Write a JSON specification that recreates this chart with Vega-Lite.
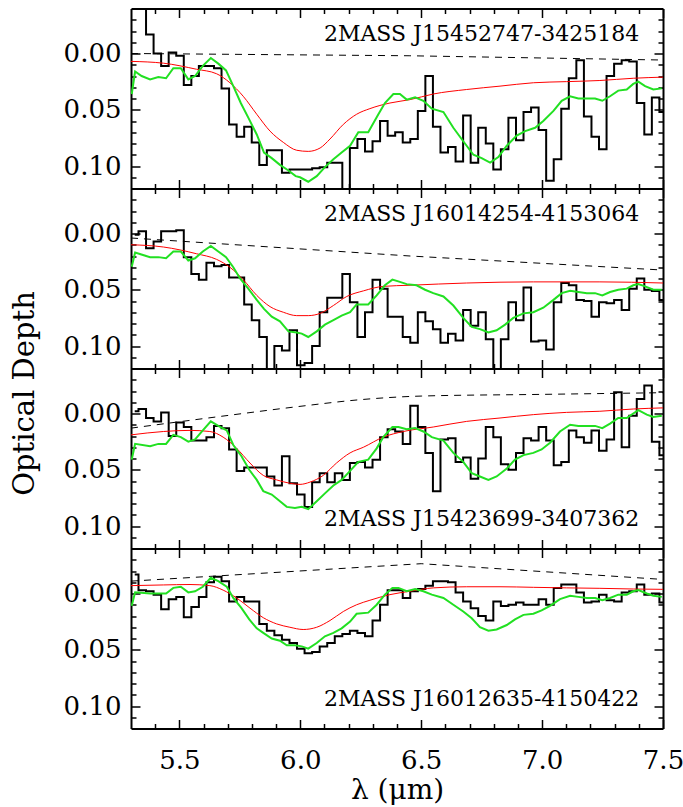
{
"$schema":"https://vega.github.io/schema/vega-lite/v6.json",
"padding":{"left":10,"top":7.5,"right":0,"bottom":0},
"autosize":{"type":"pad"},
"background":"white",
"config":{"view":{"stroke":null},"axis":{"grid":false,"domainColor":"black","domainWidth":2,"tickColor":"black","tickWidth":1.5,"labelFont":"DejaVu Serif","labelColor":"black","titleFont":"DejaVu Serif","titleColor":"black","titleFontWeight":"normal","labelOverlap":false,"labelFlush":false,"labelBound":false}},
"datasets":{
"h":[
{"x":5.3154,"y1":-0.05,"y2":0.001,"y3":-0.002,"y4":-0.017},
{"x":5.3466,"y1":-0.05,"y2":-0.002,"y3":-0.004,"y4":-0.003},
{"x":5.3778,"y1":-0.017,"y2":0.013,"y3":0.004,"y4":-0.002},
{"x":5.4090,"y1":0.000,"y2":0.007,"y3":0.007,"y4":0.001},
{"x":5.4402,"y1":0.011,"y2":-0.002,"y3":-0.001,"y4":0.014},
{"x":5.4715,"y1":-0.001,"y2":-0.002,"y3":0.020,"y4":0.005},
{"x":5.5027,"y1":0.002,"y2":-0.003,"y3":0.008,"y4":0.003},
{"x":5.5339,"y1":0.028,"y2":0.021,"y3":0.012,"y4":0.021},
{"x":5.5651,"y1":0.020,"y2":0.036,"y3":0.024,"y4":0.012},
{"x":5.5963,"y1":0.011,"y2":0.041,"y3":0.024,"y4":0.003},
{"x":5.6276,"y1":0.011,"y2":0.026,"y3":0.021,"y4":-0.010},
{"x":5.6588,"y1":0.013,"y2":0.029,"y3":0.011,"y4":-0.015},
{"x":5.6900,"y1":0.031,"y2":0.028,"y3":0.013,"y4":-0.011},
{"x":5.7212,"y1":0.063,"y2":0.039,"y3":0.032,"y4":0.007},
{"x":5.7524,"y1":0.074,"y2":0.039,"y3":0.051,"y4":0.003},
{"x":5.7837,"y1":0.065,"y2":0.063,"y3":0.048,"y4":0.007},
{"x":5.8149,"y1":0.079,"y2":0.077,"y3":0.048,"y4":0.007},
{"x":5.8461,"y1":0.099,"y2":0.092,"y3":0.048,"y4":0.027},
{"x":5.8773,"y1":0.086,"y2":0.125,"y3":0.056,"y4":0.033},
{"x":5.9085,"y1":0.086,"y2":0.100,"y3":0.064,"y4":0.037},
{"x":5.9398,"y1":0.106,"y2":0.104,"y3":0.038,"y4":0.041},
{"x":5.9710,"y1":0.103,"y2":0.086,"y3":0.062,"y4":0.044},
{"x":6.0022,"y1":0.103,"y2":0.117,"y3":0.072,"y4":0.049},
{"x":6.0334,"y1":0.103,"y2":0.115,"y3":0.083,"y4":0.053},
{"x":6.0646,"y1":0.102,"y2":0.100,"y3":0.061,"y4":0.052},
{"x":6.0959,"y1":0.101,"y2":0.070,"y3":0.053,"y4":0.047},
{"x":6.1271,"y1":0.097,"y2":0.057,"y3":0.061,"y4":0.044},
{"x":6.1583,"y1":0.097,"y2":0.057,"y3":0.053,"y4":0.038},
{"x":6.1895,"y1":0.125,"y2":0.036,"y3":0.059,"y4":0.036},
{"x":6.2207,"y1":0.084,"y2":0.061,"y3":0.044,"y4":0.033},
{"x":6.2520,"y1":0.076,"y2":0.092,"y3":0.043,"y4":0.035},
{"x":6.2832,"y1":0.087,"y2":0.070,"y3":0.048,"y4":0.038},
{"x":6.3144,"y1":0.078,"y2":0.041,"y3":0.041,"y4":0.024},
{"x":6.3456,"y1":0.060,"y2":0.049,"y3":0.021,"y4":0.010},
{"x":6.3768,"y1":0.073,"y2":0.074,"y3":0.014,"y4":-0.003},
{"x":6.4081,"y1":0.070,"y2":0.074,"y3":0.016,"y4":-0.003},
{"x":6.4393,"y1":0.079,"y2":0.092,"y3":0.027,"y4":0.004},
{"x":6.4705,"y1":0.076,"y2":0.097,"y3":-0.007,"y4":-0.002},
{"x":6.5017,"y1":0.051,"y2":0.070,"y3":0.012,"y4":-0.004},
{"x":6.5329,"y1":0.020,"y2":0.078,"y3":0.035,"y4":-0.007},
{"x":6.5642,"y1":0.065,"y2":0.085,"y3":0.069,"y4":-0.011},
{"x":6.5954,"y1":0.088,"y2":0.097,"y3":0.023,"y4":-0.011},
{"x":6.6266,"y1":0.083,"y2":0.089,"y3":0.022,"y4":-0.010},
{"x":6.6578,"y1":0.096,"y2":0.095,"y3":0.043,"y4":-0.001},
{"x":6.6890,"y1":0.055,"y2":0.068,"y3":0.039,"y4":0.007},
{"x":6.7203,"y1":0.097,"y2":0.082,"y3":0.058,"y4":0.013},
{"x":6.7515,"y1":0.066,"y2":0.070,"y3":0.040,"y4":0.020},
{"x":6.7827,"y1":0.080,"y2":0.094,"y3":0.012,"y4":0.024},
{"x":6.8139,"y1":0.103,"y2":0.125,"y3":0.021,"y4":0.007},
{"x":6.8451,"y1":0.085,"y2":0.094,"y3":0.045,"y4":0.011},
{"x":6.8764,"y1":0.057,"y2":0.061,"y3":0.050,"y4":0.010},
{"x":6.9076,"y1":0.077,"y2":0.077,"y3":0.035,"y4":0.008},
{"x":6.9388,"y1":0.052,"y2":0.048,"y3":0.022,"y4":0.010},
{"x":6.9700,"y1":0.048,"y2":0.096,"y3":0.024,"y4":0.010},
{"x":7.0012,"y1":0.068,"y2":0.095,"y3":0.012,"y4":0.005},
{"x":7.0325,"y1":0.113,"y2":0.103,"y3":0.024,"y4":0.010},
{"x":7.0637,"y1":0.094,"y2":0.061,"y3":0.046,"y4":-0.005},
{"x":7.0949,"y1":0.049,"y2":0.044,"y3":0.043,"y4":-0.008},
{"x":7.1261,"y1":0.022,"y2":0.046,"y3":0.015,"y4":-0.008},
{"x":7.1573,"y1":0.006,"y2":0.059,"y3":0.021,"y4":-0.001},
{"x":7.1886,"y1":0.056,"y2":0.060,"y3":0.026,"y4":0.008},
{"x":7.2198,"y1":0.074,"y2":0.074,"y3":0.015,"y4":0.007},
{"x":7.2510,"y1":0.085,"y2":0.061,"y3":0.033,"y4":0.001},
{"x":7.2822,"y1":0.020,"y2":0.062,"y3":0.023,"y4":0.006},
{"x":7.3134,"y1":0.009,"y2":0.059,"y3":-0.019,"y4":0.007},
{"x":7.3447,"y1":0.006,"y2":0.068,"y3":0.030,"y4":-0.001},
{"x":7.3759,"y1":0.007,"y2":0.049,"y3":0.002,"y4":-0.002},
{"x":7.4071,"y1":0.044,"y2":0.040,"y3":-0.013,"y4":-0.008},
{"x":7.4383,"y1":0.072,"y2":0.050,"y3":-0.025,"y4":0.001},
{"x":7.4695,"y1":0.039,"y2":0.051,"y3":0.025,"y4":0.000},
{"x":7.5008,"y1":0.052,"y2":0.059,"y3":0.037,"y4":0.008}
],
"g":[
{"p":1,"x":5.303,"y":0.036},{"p":1,"x":5.317,"y":0.016},{"p":1,"x":5.344,"y":0.020},{"p":1,"x":5.379,"y":0.023},{"p":1,"x":5.413,"y":0.021},{"p":1,"x":5.445,"y":0.022},{"p":1,"x":5.475,"y":0.013},{"p":1,"x":5.506,"y":0.013},{"p":1,"x":5.537,"y":0.023},{"p":1,"x":5.565,"y":0.020},{"p":1,"x":5.597,"y":0.011},{"p":1,"x":5.630,"y":0.004},{"p":1,"x":5.661,"y":0.009},{"p":1,"x":5.693,"y":0.015},{"p":1,"x":5.723,"y":0.029},{"p":1,"x":5.754,"y":0.044},{"p":1,"x":5.785,"y":0.057},{"p":1,"x":5.820,"y":0.072},{"p":1,"x":5.850,"y":0.088},{"p":1,"x":5.882,"y":0.093},{"p":1,"x":5.916,"y":0.099},{"p":1,"x":5.951,"y":0.104},{"p":1,"x":5.981,"y":0.109},{"p":1,"x":5.999,"y":0.110},{"p":1,"x":6.033,"y":0.114},{"p":1,"x":6.068,"y":0.109},{"p":1,"x":6.102,"y":0.101},{"p":1,"x":6.137,"y":0.094},{"p":1,"x":6.171,"y":0.088},{"p":1,"x":6.206,"y":0.082},{"p":1,"x":6.240,"y":0.070},{"p":1,"x":6.281,"y":0.070},{"p":1,"x":6.323,"y":0.054},{"p":1,"x":6.350,"y":0.044},{"p":1,"x":6.385,"y":0.036},{"p":1,"x":6.412,"y":0.036},{"p":1,"x":6.440,"y":0.041},{"p":1,"x":6.475,"y":0.039},{"p":1,"x":6.509,"y":0.042},{"p":1,"x":6.544,"y":0.049},{"p":1,"x":6.592,"y":0.052},{"p":1,"x":6.633,"y":0.066},{"p":1,"x":6.674,"y":0.078},{"p":1,"x":6.716,"y":0.090},{"p":1,"x":6.750,"y":0.093},{"p":1,"x":6.785,"y":0.097},{"p":1,"x":6.819,"y":0.092},{"p":1,"x":6.854,"y":0.082},{"p":1,"x":6.895,"y":0.073},{"p":1,"x":6.930,"y":0.069},{"p":1,"x":6.971,"y":0.066},{"p":1,"x":7.005,"y":0.060},{"p":1,"x":7.047,"y":0.051},{"p":1,"x":7.081,"y":0.042},{"p":1,"x":7.116,"y":0.038},{"p":1,"x":7.150,"y":0.040},{"p":1,"x":7.185,"y":0.040},{"p":1,"x":7.219,"y":0.040},{"p":1,"x":7.249,"y":0.042},{"p":1,"x":7.281,"y":0.038},{"p":1,"x":7.315,"y":0.033},{"p":1,"x":7.350,"y":0.032},{"p":1,"x":7.377,"y":0.027},{"p":1,"x":7.398,"y":0.025},{"p":1,"x":7.426,"y":0.029},{"p":1,"x":7.460,"y":0.032},{"p":1,"x":7.495,"y":0.031},
{"p":2,"x":5.303,"y":0.0295},{"p":2,"x":5.317,"y":0.017},{"p":2,"x":5.379,"y":0.021},{"p":2,"x":5.413,"y":0.021},{"p":2,"x":5.445,"y":0.022},{"p":2,"x":5.475,"y":0.016},{"p":2,"x":5.506,"y":0.016},{"p":2,"x":5.537,"y":0.024},{"p":2,"x":5.565,"y":0.022},{"p":2,"x":5.597,"y":0.016},{"p":2,"x":5.630,"y":0.011},{"p":2,"x":5.661,"y":0.016},{"p":2,"x":5.693,"y":0.021},{"p":2,"x":5.723,"y":0.030},{"p":2,"x":5.751,"y":0.040},{"p":2,"x":5.785,"y":0.049},{"p":2,"x":5.820,"y":0.059},{"p":2,"x":5.850,"y":0.067},{"p":2,"x":5.882,"y":0.074},{"p":2,"x":5.916,"y":0.078},{"p":2,"x":5.951,"y":0.087},{"p":2,"x":5.985,"y":0.088},{"p":2,"x":6.006,"y":0.089},{"p":2,"x":6.033,"y":0.092},{"p":2,"x":6.068,"y":0.087},{"p":2,"x":6.102,"y":0.081},{"p":2,"x":6.137,"y":0.077},{"p":2,"x":6.171,"y":0.073},{"p":2,"x":6.206,"y":0.070},{"p":2,"x":6.233,"y":0.063},{"p":2,"x":6.281,"y":0.063},{"p":2,"x":6.316,"y":0.055},{"p":2,"x":6.350,"y":0.046},{"p":2,"x":6.381,"y":0.041},{"p":2,"x":6.412,"y":0.043},{"p":2,"x":6.440,"y":0.045},{"p":2,"x":6.481,"y":0.046},{"p":2,"x":6.516,"y":0.050},{"p":2,"x":6.550,"y":0.053},{"p":2,"x":6.592,"y":0.056},{"p":2,"x":6.633,"y":0.064},{"p":2,"x":6.674,"y":0.075},{"p":2,"x":6.709,"y":0.083},{"p":2,"x":6.743,"y":0.085},{"p":2,"x":6.778,"y":0.088},{"p":2,"x":6.812,"y":0.086},{"p":2,"x":6.847,"y":0.081},{"p":2,"x":6.881,"y":0.075},{"p":2,"x":6.923,"y":0.071},{"p":2,"x":6.964,"y":0.070},{"p":2,"x":7.005,"y":0.066},{"p":2,"x":7.047,"y":0.059},{"p":2,"x":7.081,"y":0.053},{"p":2,"x":7.116,"y":0.051},{"p":2,"x":7.150,"y":0.052},{"p":2,"x":7.185,"y":0.053},{"p":2,"x":7.219,"y":0.053},{"p":2,"x":7.249,"y":0.055},{"p":2,"x":7.281,"y":0.052},{"p":2,"x":7.315,"y":0.050},{"p":2,"x":7.350,"y":0.049},{"p":2,"x":7.377,"y":0.046},{"p":2,"x":7.398,"y":0.045},{"p":2,"x":7.426,"y":0.047},{"p":2,"x":7.460,"y":0.050},{"p":2,"x":7.495,"y":0.050},
{"p":3,"x":5.303,"y":0.041},{"p":3,"x":5.317,"y":0.027},{"p":3,"x":5.379,"y":0.029},{"p":3,"x":5.413,"y":0.027},{"p":3,"x":5.445,"y":0.027},{"p":3,"x":5.475,"y":0.019},{"p":3,"x":5.506,"y":0.021},{"p":3,"x":5.537,"y":0.025},{"p":3,"x":5.565,"y":0.023},{"p":3,"x":5.597,"y":0.015},{"p":3,"x":5.630,"y":0.007},{"p":3,"x":5.661,"y":0.011},{"p":3,"x":5.696,"y":0.015},{"p":3,"x":5.723,"y":0.028},{"p":3,"x":5.757,"y":0.038},{"p":3,"x":5.789,"y":0.050},{"p":3,"x":5.820,"y":0.059},{"p":3,"x":5.847,"y":0.069},{"p":3,"x":5.882,"y":0.072},{"p":3,"x":5.916,"y":0.078},{"p":3,"x":5.944,"y":0.083},{"p":3,"x":5.978,"y":0.084},{"p":3,"x":6.006,"y":0.083},{"p":3,"x":6.033,"y":0.085},{"p":3,"x":6.068,"y":0.078},{"p":3,"x":6.102,"y":0.071},{"p":3,"x":6.137,"y":0.064},{"p":3,"x":6.171,"y":0.059},{"p":3,"x":6.206,"y":0.051},{"p":3,"x":6.240,"y":0.043},{"p":3,"x":6.281,"y":0.041},{"p":3,"x":6.316,"y":0.031},{"p":3,"x":6.343,"y":0.021},{"p":3,"x":6.381,"y":0.012},{"p":3,"x":6.406,"y":0.012},{"p":3,"x":6.440,"y":0.014},{"p":3,"x":6.475,"y":0.013},{"p":3,"x":6.509,"y":0.016},{"p":3,"x":6.544,"y":0.021},{"p":3,"x":6.592,"y":0.024},{"p":3,"x":6.633,"y":0.035},{"p":3,"x":6.674,"y":0.043},{"p":3,"x":6.709,"y":0.053},{"p":3,"x":6.743,"y":0.056},{"p":3,"x":6.778,"y":0.059},{"p":3,"x":6.812,"y":0.056},{"p":3,"x":6.854,"y":0.049},{"p":3,"x":6.888,"y":0.041},{"p":3,"x":6.923,"y":0.037},{"p":3,"x":6.964,"y":0.035},{"p":3,"x":6.998,"y":0.032},{"p":3,"x":7.033,"y":0.026},{"p":3,"x":7.074,"y":0.016},{"p":3,"x":7.116,"y":0.010},{"p":3,"x":7.150,"y":0.011},{"p":3,"x":7.185,"y":0.011},{"p":3,"x":7.219,"y":0.011},{"p":3,"x":7.249,"y":0.013},{"p":3,"x":7.281,"y":0.009},{"p":3,"x":7.315,"y":0.004},{"p":3,"x":7.350,"y":0.004},{"p":3,"x":7.377,"y":0.000},{"p":3,"x":7.398,"y":-0.003},{"p":3,"x":7.433,"y":0.001},{"p":3,"x":7.460,"y":0.003},{"p":3,"x":7.495,"y":0.002},
{"p":4,"x":5.303,"y":0.011},{"p":4,"x":5.317,"y":-0.001},{"p":4,"x":5.379,"y":0.000},{"p":4,"x":5.413,"y":0.000},{"p":4,"x":5.445,"y":0.000},{"p":4,"x":5.475,"y":-0.005},{"p":4,"x":5.506,"y":-0.006},{"p":4,"x":5.537,"y":-0.001},{"p":4,"x":5.565,"y":-0.002},{"p":4,"x":5.597,"y":-0.006},{"p":4,"x":5.630,"y":-0.014},{"p":4,"x":5.661,"y":-0.011},{"p":4,"x":5.696,"y":-0.006},{"p":4,"x":5.723,"y":0.004},{"p":4,"x":5.757,"y":0.013},{"p":4,"x":5.789,"y":0.023},{"p":4,"x":5.820,"y":0.031},{"p":4,"x":5.847,"y":0.035},{"p":4,"x":5.882,"y":0.040},{"p":4,"x":5.916,"y":0.042},{"p":4,"x":5.944,"y":0.046},{"p":4,"x":5.978,"y":0.046},{"p":4,"x":6.006,"y":0.047},{"p":4,"x":6.033,"y":0.049},{"p":4,"x":6.068,"y":0.044},{"p":4,"x":6.102,"y":0.038},{"p":4,"x":6.137,"y":0.035},{"p":4,"x":6.171,"y":0.031},{"p":4,"x":6.206,"y":0.025},{"p":4,"x":6.233,"y":0.018},{"p":4,"x":6.281,"y":0.017},{"p":4,"x":6.316,"y":0.010},{"p":4,"x":6.350,"y":0.001},{"p":4,"x":6.381,"y":-0.005},{"p":4,"x":6.406,"y":-0.005},{"p":4,"x":6.440,"y":-0.002},{"p":4,"x":6.475,"y":-0.004},{"p":4,"x":6.509,"y":-0.002},{"p":4,"x":6.544,"y":0.001},{"p":4,"x":6.592,"y":0.004},{"p":4,"x":6.633,"y":0.010},{"p":4,"x":6.674,"y":0.016},{"p":4,"x":6.709,"y":0.022},{"p":4,"x":6.743,"y":0.030},{"p":4,"x":6.778,"y":0.033},{"p":4,"x":6.812,"y":0.032},{"p":4,"x":6.854,"y":0.028},{"p":4,"x":6.888,"y":0.023},{"p":4,"x":6.923,"y":0.019},{"p":4,"x":6.964,"y":0.018},{"p":4,"x":6.998,"y":0.015},{"p":4,"x":7.033,"y":0.011},{"p":4,"x":7.074,"y":0.005},{"p":4,"x":7.116,"y":0.002},{"p":4,"x":7.150,"y":0.003},{"p":4,"x":7.185,"y":0.004},{"p":4,"x":7.219,"y":0.004},{"p":4,"x":7.249,"y":0.006},{"p":4,"x":7.281,"y":0.004},{"p":4,"x":7.315,"y":0.001},{"p":4,"x":7.350,"y":0.001},{"p":4,"x":7.377,"y":-0.002},{"p":4,"x":7.398,"y":-0.003},{"p":4,"x":7.433,"y":0.000},{"p":4,"x":7.460,"y":0.002},{"p":4,"x":7.495,"y":0.003}
],
"r":[
{"p":1,"x":5.3,"y":0.007},{"p":1,"x":5.434,"y":0.0086},{"p":1,"x":5.571,"y":0.014},{"p":1,"x":5.654,"y":0.018},{"p":1,"x":5.709,"y":0.026},{"p":1,"x":5.764,"y":0.038},{"p":1,"x":5.820,"y":0.054},{"p":1,"x":5.875,"y":0.069},{"p":1,"x":5.930,"y":0.079},{"p":1,"x":5.985,"y":0.086},{"p":1,"x":6.033,"y":0.087},{"p":1,"x":6.082,"y":0.084},{"p":1,"x":6.123,"y":0.076},{"p":1,"x":6.178,"y":0.063},{"p":1,"x":6.233,"y":0.054},{"p":1,"x":6.288,"y":0.049},{"p":1,"x":6.371,"y":0.044},{"p":1,"x":6.454,"y":0.041},{"p":1,"x":6.55,"y":0.036},{"p":1,"x":6.688,"y":0.032},{"p":1,"x":6.826,"y":0.029},{"p":1,"x":6.964,"y":0.026},{"p":1,"x":7.101,"y":0.025},{"p":1,"x":7.239,"y":0.024},{"p":1,"x":7.377,"y":0.022},{"p":1,"x":7.5,"y":0.021},
{"p":2,"x":5.3,"y":0.010},{"p":2,"x":5.434,"y":0.012},{"p":2,"x":5.571,"y":0.018},{"p":2,"x":5.654,"y":0.023},{"p":2,"x":5.709,"y":0.030},{"p":2,"x":5.764,"y":0.041},{"p":2,"x":5.820,"y":0.055},{"p":2,"x":5.875,"y":0.065},{"p":2,"x":5.930,"y":0.070},{"p":2,"x":5.985,"y":0.073},{"p":2,"x":6.033,"y":0.073},{"p":2,"x":6.082,"y":0.071},{"p":2,"x":6.137,"y":0.064},{"p":2,"x":6.192,"y":0.056},{"p":2,"x":6.261,"y":0.051},{"p":2,"x":6.343,"y":0.047},{"p":2,"x":6.454,"y":0.046},{"p":2,"x":6.688,"y":0.044},{"p":2,"x":6.964,"y":0.043},{"p":2,"x":7.239,"y":0.043},{"p":2,"x":7.5,"y":0.044},
{"p":3,"x":5.3,"y":0.019},{"p":3,"x":5.434,"y":0.016},{"p":3,"x":5.544,"y":0.015},{"p":3,"x":5.626,"y":0.016},{"p":3,"x":5.681,"y":0.021},{"p":3,"x":5.737,"y":0.031},{"p":3,"x":5.792,"y":0.044},{"p":3,"x":5.847,"y":0.055},{"p":3,"x":5.902,"y":0.059},{"p":3,"x":5.957,"y":0.062},{"p":3,"x":5.999,"y":0.063},{"p":3,"x":6.040,"y":0.061},{"p":3,"x":6.095,"y":0.055},{"p":3,"x":6.150,"y":0.044},{"p":3,"x":6.206,"y":0.035},{"p":3,"x":6.261,"y":0.030},{"p":3,"x":6.343,"y":0.021},{"p":3,"x":6.426,"y":0.016},{"p":3,"x":6.55,"y":0.012},{"p":3,"x":6.688,"y":0.007},{"p":3,"x":6.826,"y":0.004},{"p":3,"x":6.964,"y":0.001},{"p":3,"x":7.101,"y":-0.001},{"p":3,"x":7.239,"y":-0.002},{"p":3,"x":7.377,"y":-0.004},{"p":3,"x":7.5,"y":-0.005},
{"p":4,"x":5.3,"y":-0.007},{"p":4,"x":5.434,"y":-0.0076},{"p":4,"x":5.544,"y":-0.008},{"p":4,"x":5.626,"y":-0.007},{"p":4,"x":5.681,"y":-0.003},{"p":4,"x":5.737,"y":0.004},{"p":4,"x":5.792,"y":0.013},{"p":4,"x":5.847,"y":0.0215},{"p":4,"x":5.902,"y":0.027},{"p":4,"x":5.957,"y":0.030},{"p":4,"x":6.012,"y":0.032},{"p":4,"x":6.068,"y":0.030},{"p":4,"x":6.123,"y":0.024},{"p":4,"x":6.178,"y":0.016},{"p":4,"x":6.233,"y":0.010},{"p":4,"x":6.288,"y":0.006},{"p":4,"x":6.371,"y":0.001},{"p":4,"x":6.454,"y":-0.002},{"p":4,"x":6.55,"y":-0.005},{"p":4,"x":6.688,"y":-0.006},{"p":4,"x":6.826,"y":-0.006},{"p":4,"x":6.964,"y":-0.0055},{"p":4,"x":7.101,"y":-0.005},{"p":4,"x":7.239,"y":-0.0046},{"p":4,"x":7.377,"y":-0.004},{"p":4,"x":7.5,"y":-0.0037}
],
"d":[
{"p":1,"x":5.3,"y":0.0},{"p":1,"x":6.45,"y":0.002},{"p":1,"x":7.5,"y":0.0058},
{"p":2,"x":5.3,"y":0.004},{"p":2,"x":6.454,"y":0.020},{"p":2,"x":7.5,"y":0.0325},
{"p":3,"x":5.3,"y":0.013},{"p":3,"x":5.709,"y":0.0015},{"p":3,"x":5.985,"y":-0.006},{"p":3,"x":6.26,"y":-0.0125},{"p":3,"x":6.5,"y":-0.0155},{"p":3,"x":7.0,"y":-0.017},{"p":3,"x":7.5,"y":-0.0185},
{"p":4,"x":5.3,"y":-0.011},{"p":4,"x":6.5,"y":-0.0265},{"p":4,"x":7.5,"y":-0.0125}
]
},
"spacing":0,
"bounds":"flush",
"vconcat":[
{"width":532,"height":180,"resolve":{"axis":{"x":"independent","y":"independent"}},"layer":[
{"data":{"name":"h"},"mark":{"type":"line","interpolate":"step","stroke":"black","strokeWidth":2,"clip":true},
"encoding":{"x":{"field":"x","type":"quantitative","scale":{"domain":[5.3,7.5],"nice":false,"zero":false},"axis":{"orient":"bottom","values":[5.4,5.5,5.6,5.7,5.8,5.9,6,6.1,6.2,6.3,6.4,6.5,6.6,6.7,6.8,6.9,7,7.1,7.2,7.3,7.4,7.5],"tickSize":{"condition":{"test":"abs(datum.value*2-round(datum.value*2))<0.001","value":-9},"value":-5},"labels":false,"title":null}},
"y":{"field":"y1","type":"quantitative","scale":{"domain":[-0.04,0.12],"reverse":true,"nice":false,"zero":false},"axis":{"orient":"left","values":[-0.03,-0.02,-0.01,0,0.01,0.02,0.03,0.04,0.05,0.06,0.07,0.08,0.09,0.1,0.11],"tickSize":{"condition":{"test":"abs(datum.value*20-round(datum.value*20))<0.001","value":-9},"value":-5},"labelExpr":"abs(datum.value*20-round(datum.value*20))<0.001 ? format(datum.value,'.2f') : ''","labelFontSize":{"condition":{"test":"abs(datum.value*20-round(datum.value*20))<0.001","value":26},"value":1},"labelPadding":19,"title":"Optical Depth","titleX":-98,"titleY":384.5,"titleAngle":270,"titleAlign":"center","titleBaseline":"alphabetic","titleFontSize":29}}}},
{"data":{"name":"d"},"transform":[{"filter":"datum.p==1"}],"mark":{"type":"line","stroke":"black","strokeWidth":1,"strokeDash":[7,6],"clip":true},
"encoding":{"x":{"field":"x","type":"quantitative","scale":{"domain":[5.3,7.5],"nice":false,"zero":false},"axis":null},"y":{"field":"y","type":"quantitative","scale":{"domain":[-0.04,0.12],"reverse":true,"nice":false,"zero":false},"axis":null}}},
{"data":{"name":"r"},"transform":[{"filter":"datum.p==1"}],"mark":{"type":"line","interpolate":"monotone","stroke":"#ff0000","strokeWidth":1,"clip":true},
"encoding":{"x":{"field":"x","type":"quantitative","scale":{"domain":[5.3,7.5],"nice":false,"zero":false},"axis":null},"y":{"field":"y","type":"quantitative","scale":{"domain":[-0.04,0.12],"reverse":true,"nice":false,"zero":false},"axis":null}}},
{"data":{"name":"g"},"transform":[{"filter":"datum.p==1"}],"mark":{"type":"line","stroke":"#22e022","strokeWidth":2,"clip":true},
"encoding":{"x":{"field":"x","type":"quantitative","scale":{"domain":[5.3,7.5],"nice":false,"zero":false},"axis":{"orient":"top","values":[5.4,5.5,5.6,5.7,5.8,5.9,6,6.1,6.2,6.3,6.4,6.5,6.6,6.7,6.8,6.9,7,7.1,7.2,7.3,7.4,7.5],"tickSize":{"condition":{"test":"abs(datum.value*2-round(datum.value*2))<0.001","value":-9},"value":-5},"labels":false,"title":null}},
"y":{"field":"y","type":"quantitative","scale":{"domain":[-0.04,0.12],"reverse":true,"nice":false,"zero":false},"axis":{"orient":"right","values":[-0.03,-0.02,-0.01,0,0.01,0.02,0.03,0.04,0.05,0.06,0.07,0.08,0.09,0.1,0.11],"tickSize":{"condition":{"test":"abs(datum.value*20-round(datum.value*20))<0.001","value":-9},"value":-5},"labels":false,"title":null}}}},
{"data":{"values":[{"t":"2MASS J15452747-3425184"}]},"mark":{"type":"text","align":"right","baseline":"middle","font":"DejaVu Serif","fontSize":22,"color":"black"},
"encoding":{"text":{"field":"t"},"x":{"datum":7.402,"type":"quantitative","scale":{"domain":[5.3,7.5],"nice":false,"zero":false},"axis":null},"y":{"datum":-0.0175,"type":"quantitative","scale":{"domain":[-0.04,0.12],"reverse":true,"nice":false,"zero":false},"axis":null}}}
]},
{"width":532,"height":180,"resolve":{"axis":{"x":"independent","y":"independent"}},"layer":[
{"data":{"name":"h"},"mark":{"type":"line","interpolate":"step","stroke":"black","strokeWidth":2,"clip":true},
"encoding":{"x":{"field":"x","type":"quantitative","scale":{"domain":[5.3,7.5],"nice":false,"zero":false},"axis":{"orient":"bottom","values":[5.4,5.5,5.6,5.7,5.8,5.9,6,6.1,6.2,6.3,6.4,6.5,6.6,6.7,6.8,6.9,7,7.1,7.2,7.3,7.4,7.5],"tickSize":{"condition":{"test":"abs(datum.value*2-round(datum.value*2))<0.001","value":-9},"value":-5},"labels":false,"title":null}},
"y":{"field":"y2","type":"quantitative","scale":{"domain":[-0.04,0.12],"reverse":true,"nice":false,"zero":false},"axis":{"orient":"left","values":[-0.03,-0.02,-0.01,0,0.01,0.02,0.03,0.04,0.05,0.06,0.07,0.08,0.09,0.1,0.11],"tickSize":{"condition":{"test":"abs(datum.value*20-round(datum.value*20))<0.001","value":-9},"value":-5},"labelExpr":"abs(datum.value*20-round(datum.value*20))<0.001 ? format(datum.value,'.2f') : ''","labelFontSize":{"condition":{"test":"abs(datum.value*20-round(datum.value*20))<0.001","value":26},"value":1},"labelPadding":19,"title":null}}}},
{"data":{"name":"d"},"transform":[{"filter":"datum.p==2"}],"mark":{"type":"line","stroke":"black","strokeWidth":1,"strokeDash":[7,6],"clip":true},
"encoding":{"x":{"field":"x","type":"quantitative","scale":{"domain":[5.3,7.5],"nice":false,"zero":false},"axis":null},"y":{"field":"y","type":"quantitative","scale":{"domain":[-0.04,0.12],"reverse":true,"nice":false,"zero":false},"axis":null}}},
{"data":{"name":"r"},"transform":[{"filter":"datum.p==2"}],"mark":{"type":"line","interpolate":"monotone","stroke":"#ff0000","strokeWidth":1,"clip":true},
"encoding":{"x":{"field":"x","type":"quantitative","scale":{"domain":[5.3,7.5],"nice":false,"zero":false},"axis":null},"y":{"field":"y","type":"quantitative","scale":{"domain":[-0.04,0.12],"reverse":true,"nice":false,"zero":false},"axis":null}}},
{"data":{"name":"g"},"transform":[{"filter":"datum.p==2"}],"mark":{"type":"line","stroke":"#22e022","strokeWidth":2,"clip":true},
"encoding":{"x":{"field":"x","type":"quantitative","scale":{"domain":[5.3,7.5],"nice":false,"zero":false},"axis":{"orient":"top","values":[5.4,5.5,5.6,5.7,5.8,5.9,6,6.1,6.2,6.3,6.4,6.5,6.6,6.7,6.8,6.9,7,7.1,7.2,7.3,7.4,7.5],"tickSize":{"condition":{"test":"abs(datum.value*2-round(datum.value*2))<0.001","value":-9},"value":-5},"labels":false,"title":null}},
"y":{"field":"y","type":"quantitative","scale":{"domain":[-0.04,0.12],"reverse":true,"nice":false,"zero":false},"axis":{"orient":"right","values":[-0.03,-0.02,-0.01,0,0.01,0.02,0.03,0.04,0.05,0.06,0.07,0.08,0.09,0.1,0.11],"tickSize":{"condition":{"test":"abs(datum.value*20-round(datum.value*20))<0.001","value":-9},"value":-5},"labels":false,"title":null}}}},
{"data":{"values":[{"t":"2MASS J16014254-4153064"}]},"mark":{"type":"text","align":"right","baseline":"middle","font":"DejaVu Serif","fontSize":22,"color":"black"},
"encoding":{"text":{"field":"t"},"x":{"datum":7.402,"type":"quantitative","scale":{"domain":[5.3,7.5],"nice":false,"zero":false},"axis":null},"y":{"datum":-0.0175,"type":"quantitative","scale":{"domain":[-0.04,0.12],"reverse":true,"nice":false,"zero":false},"axis":null}}}
]},
{"width":532,"height":180,"resolve":{"axis":{"x":"independent","y":"independent"}},"layer":[
{"data":{"name":"h"},"mark":{"type":"line","interpolate":"step","stroke":"black","strokeWidth":2,"clip":true},
"encoding":{"x":{"field":"x","type":"quantitative","scale":{"domain":[5.3,7.5],"nice":false,"zero":false},"axis":{"orient":"bottom","values":[5.4,5.5,5.6,5.7,5.8,5.9,6,6.1,6.2,6.3,6.4,6.5,6.6,6.7,6.8,6.9,7,7.1,7.2,7.3,7.4,7.5],"tickSize":{"condition":{"test":"abs(datum.value*2-round(datum.value*2))<0.001","value":-9},"value":-5},"labels":false,"title":null}},
"y":{"field":"y3","type":"quantitative","scale":{"domain":[-0.04,0.12],"reverse":true,"nice":false,"zero":false},"axis":{"orient":"left","values":[-0.03,-0.02,-0.01,0,0.01,0.02,0.03,0.04,0.05,0.06,0.07,0.08,0.09,0.1,0.11],"tickSize":{"condition":{"test":"abs(datum.value*20-round(datum.value*20))<0.001","value":-9},"value":-5},"labelExpr":"abs(datum.value*20-round(datum.value*20))<0.001 ? format(datum.value,'.2f') : ''","labelFontSize":{"condition":{"test":"abs(datum.value*20-round(datum.value*20))<0.001","value":26},"value":1},"labelPadding":19,"title":null}}}},
{"data":{"name":"d"},"transform":[{"filter":"datum.p==3"}],"mark":{"type":"line","interpolate":"monotone","stroke":"black","strokeWidth":1,"strokeDash":[7,6],"clip":true},
"encoding":{"x":{"field":"x","type":"quantitative","scale":{"domain":[5.3,7.5],"nice":false,"zero":false},"axis":null},"y":{"field":"y","type":"quantitative","scale":{"domain":[-0.04,0.12],"reverse":true,"nice":false,"zero":false},"axis":null}}},
{"data":{"name":"r"},"transform":[{"filter":"datum.p==3"}],"mark":{"type":"line","interpolate":"monotone","stroke":"#ff0000","strokeWidth":1,"clip":true},
"encoding":{"x":{"field":"x","type":"quantitative","scale":{"domain":[5.3,7.5],"nice":false,"zero":false},"axis":null},"y":{"field":"y","type":"quantitative","scale":{"domain":[-0.04,0.12],"reverse":true,"nice":false,"zero":false},"axis":null}}},
{"data":{"name":"g"},"transform":[{"filter":"datum.p==3"}],"mark":{"type":"line","stroke":"#22e022","strokeWidth":2,"clip":true},
"encoding":{"x":{"field":"x","type":"quantitative","scale":{"domain":[5.3,7.5],"nice":false,"zero":false},"axis":{"orient":"top","values":[5.4,5.5,5.6,5.7,5.8,5.9,6,6.1,6.2,6.3,6.4,6.5,6.6,6.7,6.8,6.9,7,7.1,7.2,7.3,7.4,7.5],"tickSize":{"condition":{"test":"abs(datum.value*2-round(datum.value*2))<0.001","value":-9},"value":-5},"labels":false,"title":null}},
"y":{"field":"y","type":"quantitative","scale":{"domain":[-0.04,0.12],"reverse":true,"nice":false,"zero":false},"axis":{"orient":"right","values":[-0.03,-0.02,-0.01,0,0.01,0.02,0.03,0.04,0.05,0.06,0.07,0.08,0.09,0.1,0.11],"tickSize":{"condition":{"test":"abs(datum.value*20-round(datum.value*20))<0.001","value":-9},"value":-5},"labels":false,"title":null}}}},
{"data":{"values":[{"t":"2MASS J15423699-3407362"}]},"mark":{"type":"text","align":"right","baseline":"middle","font":"DejaVu Serif","fontSize":22,"color":"black"},
"encoding":{"text":{"field":"t"},"x":{"datum":7.402,"type":"quantitative","scale":{"domain":[5.3,7.5],"nice":false,"zero":false},"axis":null},"y":{"datum":0.094,"type":"quantitative","scale":{"domain":[-0.04,0.12],"reverse":true,"nice":false,"zero":false},"axis":null}}}
]},
{"width":532,"height":180,"resolve":{"axis":{"x":"independent","y":"independent"}},"layer":[
{"data":{"name":"h"},"mark":{"type":"line","interpolate":"step","stroke":"black","strokeWidth":2,"clip":true},
"encoding":{"x":{"field":"x","type":"quantitative","scale":{"domain":[5.3,7.5],"nice":false,"zero":false},"axis":{"orient":"bottom","values":[5.4,5.5,5.6,5.7,5.8,5.9,6,6.1,6.2,6.3,6.4,6.5,6.6,6.7,6.8,6.9,7,7.1,7.2,7.3,7.4,7.5],"tickSize":{"condition":{"test":"abs(datum.value*2-round(datum.value*2))<0.001","value":-9},"value":-5},"labelExpr":"abs(datum.value*2-round(datum.value*2))<0.001 ? format(datum.value,'.1f') : ''","labelFontSize":{"condition":{"test":"abs(datum.value*2-round(datum.value*2))<0.001","value":26},"value":1},"labelPadding":28,"title":"λ (μm)","titleFontSize":28,"titlePadding":3}},
"y":{"field":"y4","type":"quantitative","scale":{"domain":[-0.04,0.12],"reverse":true,"nice":false,"zero":false},"axis":{"orient":"left","values":[-0.03,-0.02,-0.01,0,0.01,0.02,0.03,0.04,0.05,0.06,0.07,0.08,0.09,0.1,0.11],"tickSize":{"condition":{"test":"abs(datum.value*20-round(datum.value*20))<0.001","value":-9},"value":-5},"labelExpr":"abs(datum.value*20-round(datum.value*20))<0.001 ? format(datum.value,'.2f') : ''","labelFontSize":{"condition":{"test":"abs(datum.value*20-round(datum.value*20))<0.001","value":26},"value":1},"labelPadding":19,"title":null}}}},
{"data":{"name":"d"},"transform":[{"filter":"datum.p==4"}],"mark":{"type":"line","stroke":"black","strokeWidth":1,"strokeDash":[7,6],"clip":true},
"encoding":{"x":{"field":"x","type":"quantitative","scale":{"domain":[5.3,7.5],"nice":false,"zero":false},"axis":null},"y":{"field":"y","type":"quantitative","scale":{"domain":[-0.04,0.12],"reverse":true,"nice":false,"zero":false},"axis":null}}},
{"data":{"name":"r"},"transform":[{"filter":"datum.p==4"}],"mark":{"type":"line","interpolate":"monotone","stroke":"#ff0000","strokeWidth":1,"clip":true},
"encoding":{"x":{"field":"x","type":"quantitative","scale":{"domain":[5.3,7.5],"nice":false,"zero":false},"axis":null},"y":{"field":"y","type":"quantitative","scale":{"domain":[-0.04,0.12],"reverse":true,"nice":false,"zero":false},"axis":null}}},
{"data":{"name":"g"},"transform":[{"filter":"datum.p==4"}],"mark":{"type":"line","stroke":"#22e022","strokeWidth":2,"clip":true},
"encoding":{"x":{"field":"x","type":"quantitative","scale":{"domain":[5.3,7.5],"nice":false,"zero":false},"axis":{"orient":"top","values":[5.4,5.5,5.6,5.7,5.8,5.9,6,6.1,6.2,6.3,6.4,6.5,6.6,6.7,6.8,6.9,7,7.1,7.2,7.3,7.4,7.5],"tickSize":{"condition":{"test":"abs(datum.value*2-round(datum.value*2))<0.001","value":-9},"value":-5},"labels":false,"title":null}},
"y":{"field":"y","type":"quantitative","scale":{"domain":[-0.04,0.12],"reverse":true,"nice":false,"zero":false},"axis":{"orient":"right","values":[-0.03,-0.02,-0.01,0,0.01,0.02,0.03,0.04,0.05,0.06,0.07,0.08,0.09,0.1,0.11],"tickSize":{"condition":{"test":"abs(datum.value*20-round(datum.value*20))<0.001","value":-9},"value":-5},"labels":false,"title":null}}}},
{"data":{"values":[{"t":"2MASS J16012635-4150422"}]},"mark":{"type":"text","align":"right","baseline":"middle","font":"DejaVu Serif","fontSize":22,"color":"black"},
"encoding":{"text":{"field":"t"},"x":{"datum":7.402,"type":"quantitative","scale":{"domain":[5.3,7.5],"nice":false,"zero":false},"axis":null},"y":{"datum":0.094,"type":"quantitative","scale":{"domain":[-0.04,0.12],"reverse":true,"nice":false,"zero":false},"axis":null}}}
]}
]
}
